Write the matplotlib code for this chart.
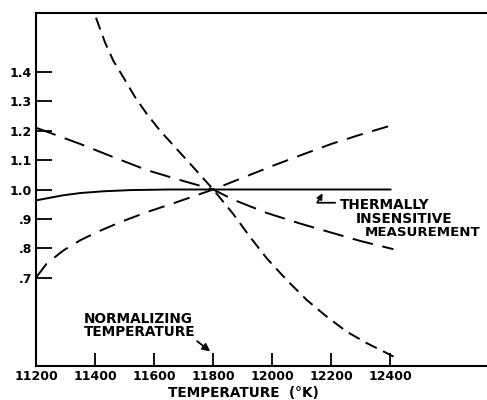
import matplotlib
matplotlib.use('Agg')
import matplotlib.pyplot as plt

# solid curve (thermally insensitive measurement)
solid_t = [11200, 11290, 11350, 11430, 11520, 11650, 11800, 12000, 12200, 12400]
solid_v = [0.963, 0.980, 0.988, 0.994, 0.998, 1.0, 1.0, 1.0, 1.0, 1.0]

# dashed curve rising
rise_t = [11202, 11236, 11293, 11349, 11406, 11485, 11575, 11665, 11745, 11800,
          11900, 12000, 12100, 12200, 12300, 12400]
rise_v = [0.703, 0.748, 0.793, 0.827, 0.855, 0.889, 0.923, 0.953, 0.981, 1.0,
          1.04, 1.08, 1.118, 1.155, 1.187, 1.217]

# long dashed curve falling
fall_t = [11200, 11349, 11462, 11575, 11688, 11800, 11869, 11982, 12095, 12208, 12298, 12410]
fall_v = [1.21, 1.155, 1.11, 1.066, 1.032, 1.0, 0.965, 0.920, 0.884, 0.851, 0.825, 0.797]

# steep dashed curve
steep_t = [11403, 11434, 11462, 11496, 11536, 11575, 11620, 11677, 11733, 11800,
           11869, 11925, 11982, 12050, 12117, 12185, 12253, 12321, 12389, 12410]
steep_v = [1.584, 1.499, 1.437, 1.381, 1.313, 1.257, 1.2, 1.137, 1.075, 1.0,
           0.915, 0.838, 0.765, 0.691, 0.624, 0.567, 0.516, 0.477, 0.443, 0.432]

xticks = [11200, 11400, 11600, 11800, 12000, 12200, 12400]
yticks = [0.7, 0.8, 0.9, 1.0, 1.1, 1.2, 1.3, 1.4]
ylabels = ['.7', '.8', '.9', '1.0', '1.1', '1.2', '1.3', '1.4']

plt.rcParams['lines.scale_dashes'] = False
fnt = dict(family='DejaVu Sans', weight='bold', size=9)
afnt = dict(family='DejaVu Sans', weight='bold', size=9.8)

fig = plt.figure(figsize=(4.87, 4.0), dpi=100)
ax = fig.add_axes([36 / 487, 34 / 400, 1 - 36 / 487 + 0.002, 353 / 400])

lw = 1.4
ax.plot(solid_t, solid_v, color='black', lw=lw)
ax.plot(rise_t, rise_v, color='black', lw=lw, dashes=(12, 7))
ax.plot(fall_t, fall_v, color='black', lw=lw, dashes=(15, 7))
ax.plot(steep_t, steep_v, color='black', lw=lw, dashes=(9, 5))

ax.set_xlim(11200, 12730)
ax.set_ylim(0.4, 1.6)
ax.spines['right'].set_visible(False)
for s in ['left', 'top', 'bottom']:
    ax.spines[s].set_linewidth(1.5)

ax.set_xticks(xticks)
ax.set_xticklabels([str(t) for t in xticks], **fnt)
ax.set_yticks(yticks)
ax.set_yticklabels(ylabels, **fnt)
ax.tick_params(axis='y', direction='in', length=11.5, width=1.3, pad=3)
ax.tick_params(axis='x', direction='in', length=9.5, width=1.3, pad=3)

ax.set_xlabel('TEMPERATURE  (°K)', **afnt)
ax.xaxis.set_label_coords(0.459, -0.0765)
ax.xaxis.label.set_va('center')

# annotations
ax.text(11363, 0.56, 'NORMALIZING', ha='left', va='center', **afnt)
ax.text(11363, 0.515, 'TEMPERATURE', ha='left', va='center', **afnt)
ax.annotate('', xy=(11797, 0.444), xytext=(11738, 0.49),
            arrowprops=dict(arrowstyle='-|>', color='black', lw=1.3,
                            mutation_scale=11))

ax.text(12227, 0.946, 'THERMALLY', ha='left', va='center', **afnt)
ax.text(12281, 0.900, 'INSENSITIVE', ha='left', va='center', **afnt)
ax.text(12314, 0.854, 'MEASUREMENT', ha='left', va='center',
        family='DejaVu Sans', weight='bold', size=9.6)
ax.annotate('', xy=(12175, 0.995), xytext=(12222, 0.955),
            arrowprops=dict(arrowstyle='-|>', color='black', lw=1.3,
                            mutation_scale=8,
                            connectionstyle='angle,angleA=0,angleB=60,rad=0'))

fig.savefig('out.png', dpi=100)
